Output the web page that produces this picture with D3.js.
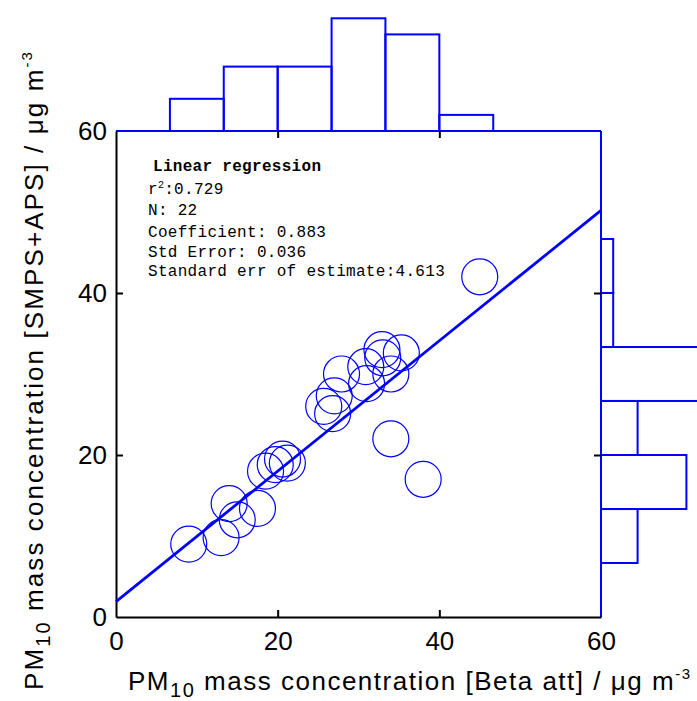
<!DOCTYPE html>
<html>
<head>
<meta charset="utf-8">
<script src="https://cdn.jsdelivr.net/npm/d3@7"></script>
<style>
  body { margin: 0; background: #fff; }
  text { font-family: "Liberation Sans", Arial, sans-serif; }
</style>
</head>
<body>
<script>
// scatter: PM10 from beta attenuation (x) vs SMPS+APS (y)
const betaAtt = [9, 13, 14, 15, 17.5, 18.5, 19.7, 20.6, 21.2, 25.7, 26.8, 27, 27.9, 30.9, 31, 32.9, 33, 35.3, 34, 45, 34, 38];
const smpsAps = [9, 9.8, 14, 12, 13.4, 18, 18.8, 19.5, 19, 26, 25.1, 27.3, 30, 30.9, 28.8, 33, 32, 32.6, 30, 42, 22, 17];

// histogram bins (same edges on both axes)
const binEdges = [6.67, 13.33, 20, 26.67, 33.33, 40, 46.67];
const topCounts = [2, 4, 4, 7, 6, 1];
const rightCounts = [3, 7, 3, 8, 1, 1];

const axisTicks = [0, 20, 40, 60];
const fitIntercept = 1.9, fitSlope = 0.805;

const statLines = ["N: 22", "Coefficient: 0.883", "Std Error: 0.036", "Standard err of estimate:4.613"];

const W = 697, H = 701;
const margin = {top: 131, right: 96, bottom: 84, left: 116};
const blue = "#0000ff";
const mono = "'Liberation Mono', 'Courier New', monospace";

const svg = d3.select("body").append("svg")
  .attr("width", W)
  .attr("height", H);

const x = d3.scaleLinear().domain([0, 60]).range([margin.left, W - margin.right]);
const y = d3.scaleLinear().domain([0, 60]).range([H - margin.bottom, margin.top]);

const topH = d3.scaleLinear().domain([0, 7]).range([0, 112.7]);
const rightW = d3.scaleLinear().domain([0, 7]).range([0, 85.4]);

// top histogram
svg.selectAll(".topbar")
  .data(topCounts)
  .enter().append("rect")
  .attr("class", "topbar")
  .attr("x", (d, i) => x(binEdges[i]))
  .attr("width", (d, i) => x(binEdges[i + 1]) - x(binEdges[i]))
  .attr("y", (d) => margin.top - topH(d))
  .attr("height", (d) => topH(d))
  .attr("fill", "none")
  .attr("stroke", blue)
  .attr("stroke-width", 2);

// right histogram
svg.selectAll(".rightbar")
  .data(rightCounts)
  .enter().append("rect")
  .attr("class", "rightbar")
  .attr("x", x(60))
  .attr("width", (d) => rightW(d))
  .attr("y", (d, i) => y(binEdges[i + 1]))
  .attr("height", (d, i) => y(binEdges[i]) - y(binEdges[i + 1]))
  .attr("fill", "none")
  .attr("stroke", blue)
  .attr("stroke-width", 2);

// blue top and right frame lines
svg.append("line")
  .attr("x1", x(0)).attr("x2", x(60))
  .attr("y1", y(60)).attr("y2", y(60))
  .attr("stroke", blue).attr("stroke-width", 2);
svg.append("line")
  .attr("x1", x(60)).attr("x2", x(60))
  .attr("y1", y(60)).attr("y2", y(0))
  .attr("stroke", blue).attr("stroke-width", 2);

// inner ticks (20, 40) on all four sides
const inner = [20, 40];
const tickStyle = (g) => {
  g.select(".domain").remove();
  g.selectAll("line").attr("stroke", "#000").attr("stroke-width", 2);
};
svg.append("g")
  .attr("transform", "translate(0," + y(0) + ")")
  .call(d3.axisBottom(x).tickValues(inner).tickSize(-7).tickFormat(""))
  .call(tickStyle);
svg.append("g")
  .attr("transform", "translate(0," + y(60) + ")")
  .call(d3.axisTop(x).tickValues(inner).tickSize(-7).tickFormat(""))
  .call(tickStyle);
svg.append("g")
  .attr("transform", "translate(" + x(0) + ",0)")
  .call(d3.axisLeft(y).tickValues(inner).tickSize(-7).tickFormat(""))
  .call(tickStyle);
svg.append("g")
  .attr("transform", "translate(" + x(60) + ",0)")
  .call(d3.axisRight(y).tickValues(inner).tickSize(-7).tickFormat(""))
  .call(tickStyle);

// black left and bottom axes with labels
const labelStyle = (g) => {
  g.selectAll("text").style("font-size", "26px").attr("fill", "#000");
  g.select(".domain").attr("stroke", "#000").attr("stroke-width", 2);
};
svg.append("g")
  .attr("transform", "translate(0," + y(0) + ")")
  .call(d3.axisBottom(x).tickValues(axisTicks).tickSize(0).tickSizeOuter(0).tickPadding(15).tickFormat(d3.format("d")))
  .call(labelStyle);
svg.append("g")
  .attr("transform", "translate(" + x(0) + ",0)")
  .call(d3.axisLeft(y).tickValues(axisTicks).tickSize(0).tickSizeOuter(0).tickPadding(9).tickFormat(d3.format("d")))
  .call(labelStyle);

// regression line
svg.append("line")
  .attr("x1", x(0)).attr("y1", y(fitIntercept))
  .attr("x2", x(60)).attr("y2", y(fitIntercept + fitSlope * 60))
  .attr("stroke", blue)
  .attr("stroke-width", 2.8);

// points
svg.selectAll("circle")
  .data(betaAtt)
  .enter().append("circle")
  .attr("cx", (d) => x(d))
  .attr("cy", (d, i) => y(smpsAps[i]))
  .attr("r", 18)
  .attr("fill", "none")
  .attr("stroke", blue)
  .attr("stroke-width", 1.2);

// regression statistics box
const stats = svg.append("g")
  .style("font-size", "16px")
  .style("letter-spacing", "0.3px");
stats.append("text")
  .attr("x", 153).attr("y", 171)
  .style("font-weight", "bold")
  .style("font-family", mono)
  .text("Linear regression");
const r2 = stats.append("text")
  .attr("x", 148).attr("y", 194)
  .style("font-family", mono);
r2.append("tspan").text("r");
r2.append("tspan").attr("dy", -6).style("font-size", "10px").text("2");
r2.append("tspan").attr("dy", 6).text(":0.729");
stats.selectAll(".stat")
  .data(statLines)
  .enter().append("text")
  .attr("class", "stat")
  .attr("x", 148)
  .attr("y", (d, i) => [215, 237, 257, 276][i])
  .style("font-family", mono)
  .text((d) => d);

// stretch a title to the width the reference gives it
function spread(t, target) {
  const n = t.text().length;
  const len = t.node().getComputedTextLength();
  t.style("letter-spacing", ((target - len) / n) + "px");
}

// axis titles
const xt = svg.append("text")
  .attr("x", 128).attr("y", 690)
  .style("font-size", "26px");
xt.append("tspan").text("PM");
xt.append("tspan").attr("dy", 7).style("font-size", "20px").text("10");
xt.append("tspan").attr("dy", -7).text("  mass concentration [Beta att] / \u03bcg m");
xt.append("tspan").attr("dy", -11).style("font-size", "15px").text("-3");
spread(xt, 565);

const yt = svg.append("text")
  .attr("transform", "translate(43,690) rotate(-90)")
  .style("font-size", "26px");
yt.append("tspan").text("PM");
yt.append("tspan").attr("dy", 7).style("font-size", "20px").text("10");
yt.append("tspan").attr("dy", -7).text(" mass concentration [SMPS+APS] / \u03bcg m");
yt.append("tspan").attr("dy", -11).style("font-size", "15px").text("-3");
spread(yt, 640);
</script>
</body>
</html>
